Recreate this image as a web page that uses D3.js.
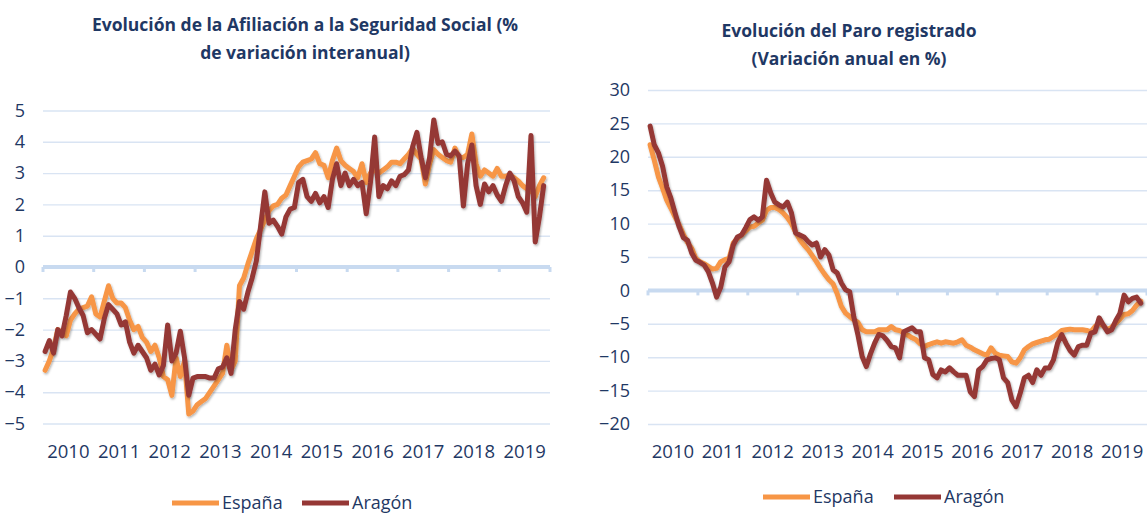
<!DOCTYPE html>
<html>
<head>
<meta charset="utf-8">
<script src="https://cdn.jsdelivr.net/npm/d3@7"></script>
<style>
  body { margin: 0; background: #fff; }
  svg text { font-family: "Open Sans", sans-serif; fill: #1f3864; }
</style>
</head>
<body>
<svg id="chart" width="1147" height="514"></svg>
<script>
// years on the category axis (monthly data, Jan 2010 onwards)
const years = ["2010", "2011", "2012", "2013", "2014", "2015", "2016", "2017", "2018", "2019"];
const seriesNames = ["España", "Aragón"];

// Afiliación a la Seguridad Social, % variación interanual
const afilTicks = [-5, -4, -3, -2, -1, 0, 1, 2, 3, 4, 5];
const espAfil = [
  -3.3, -3.0, -2.6, -2.0, -2.1, -2.2, -1.7, -1.5, -1.35, -1.3,
  -1.25, -0.95, -1.5, -1.6, -1.1, -0.6, -1.0, -1.15, -1.15, -1.3,
  -1.7, -2.0, -1.9, -2.25, -2.4, -2.7, -2.5, -2.9, -3.5, -3.6,
  -4.1, -2.9, -3.5, -3.0, -4.7, -4.6, -4.4, -4.3, -4.2, -4.0,
  -3.8, -3.6, -3.4, -2.5, -3.3, -3.0, -0.6, -0.35, 0.1, 0.5,
  0.9, 1.2, 1.5, 1.8, 1.95, 2.0, 2.2, 2.3, 2.6, 2.9,
  3.2, 3.35, 3.4, 3.45, 3.65, 3.3, 3.25, 2.85, 3.4, 3.8,
  3.4, 3.25, 3.15, 3.05, 2.85, 3.3, 2.7, 3.0, 3.1, 3.0,
  3.1, 3.2, 3.35, 3.35, 3.3, 3.45, 3.6, 3.8, 3.6, 3.45,
  2.65, 3.3, 3.75, 3.6, 3.5, 3.4, 3.35, 3.8, 3.5, 3.5,
  3.6, 4.25, 3.3, 2.9, 3.1, 3.0, 2.9, 3.15, 2.9, 2.9,
  2.95, 2.85, 2.75, 2.6, 2.5, 2.45, 2.25, 2.6, 2.85
];
const aragAfil = [
  -2.7, -2.35, -2.75, -2.0, -2.2, -1.55, -0.8, -1.0, -1.3, -1.55,
  -2.1, -2.0, -2.15, -2.3, -1.65, -1.2, -1.35, -1.5, -1.85, -1.75,
  -2.4, -2.75, -2.5, -2.7, -2.9, -3.3, -3.1, -3.45, -3.15, -1.85,
  -3.0, -2.75, -2.05, -2.9, -4.1, -3.55, -3.5, -3.5, -3.5, -3.55,
  -3.55, -3.25, -3.2, -2.9, -3.4, -2.0, -1.1, -1.35, -0.8, -0.35,
  0.2, 1.3, 2.4, 1.4, 1.5, 1.3, 1.05, 1.6, 1.85, 1.9,
  2.7, 2.8, 2.25, 2.1, 2.35, 2.05, 2.25, 1.9, 2.8, 3.3,
  2.6, 3.0, 2.6, 2.8, 2.6, 2.7, 1.7, 2.7, 4.15, 2.25,
  2.6, 2.5, 2.75, 2.6, 2.9, 2.95, 3.1, 3.85, 4.3, 3.5,
  2.85, 3.5, 4.7, 3.95, 4.0, 3.6, 3.55, 3.7, 3.55, 1.95,
  3.3, 3.9, 2.6, 2.0, 2.65, 2.4, 2.6, 2.3, 2.1, 2.6,
  3.0, 2.75, 2.25, 2.05, 1.75, 4.2, 0.8, 1.6, 2.6
];

// Paro registrado, variación anual en %
const paroTicks = [-20, -15, -10, -5, 0, 5, 10, 15, 20, 25, 30];
const espParo = [
  21.8, 19.5, 17.0, 15.3, 13.5, 12.3, 11.0, 9.8, 8.4, 7.2,
  6.3, 4.8, 4.3, 4.0, 3.6, 3.2, 3.3, 4.3, 4.6, 4.8,
  7.1, 7.8, 8.3, 8.9, 9.5, 9.6, 10.1, 10.5, 12.0, 12.4,
  12.4, 12.1, 11.6, 10.9, 10.0, 8.7, 7.6, 6.8, 6.1, 5.2,
  4.3, 3.3, 2.4, 1.6, 1.0, -0.5, -2.4, -3.4, -3.9, -4.4,
  -4.8, -5.9, -6.2, -6.2, -6.2, -5.9, -5.9, -5.9, -5.4, -5.9,
  -6.0, -6.4, -6.7, -7.1, -7.4, -8.0, -8.4, -8.1, -7.9, -7.7,
  -7.9, -7.7, -7.8, -7.9, -7.7, -7.4, -8.2, -8.5, -8.9, -9.2,
  -9.5, -9.7, -8.6, -9.4, -9.7, -9.8, -9.9, -10.7, -10.9, -10.1,
  -8.9, -8.4, -8.0, -7.8, -7.6, -7.4, -7.3, -6.9, -6.5, -6.0,
  -5.9, -5.8, -5.9, -5.9, -5.9, -6.0, -6.2, -5.4, -4.9, -5.3,
  -5.9, -5.5, -4.9, -4.3, -3.6, -3.5, -3.0, -2.2, -1.6
];
const aragParo = [
  24.6, 21.8, 20.6, 18.6, 15.5, 13.8, 11.6, 9.5, 7.9, 7.5,
  5.6, 4.5, 4.2, 3.8, 2.8, 1.1, -1.0, 0.5, 3.5, 4.3,
  6.8, 8.0, 8.3, 9.4, 10.6, 11.0, 10.5, 11.0, 16.5, 14.6,
  13.2, 12.8, 12.5, 13.2, 11.6, 8.6, 8.3, 8.0, 7.3, 6.8,
  7.1, 5.0, 6.1, 5.3, 3.1, 2.6, 1.1, 0.1, -0.2, -4.0,
  -6.7, -9.9, -11.4, -9.5, -7.9, -6.6, -6.8, -7.5, -8.4, -8.6,
  -10.1, -6.2, -5.9, -5.6, -6.2, -6.2, -10.1, -10.4, -12.6, -13.1,
  -11.9, -12.2, -11.6, -12.2, -12.7, -12.7, -12.7, -15.2, -15.9, -11.9,
  -11.4, -10.4, -10.2, -10.1, -10.4, -13.1, -13.8, -16.4, -17.4, -15.4,
  -13.1, -12.7, -13.8, -11.9, -12.7, -11.6, -11.6, -10.4, -7.9, -6.6,
  -7.9, -9.0, -9.7, -8.4, -8.2, -8.2, -6.4, -6.2, -4.1, -5.2,
  -6.2, -5.9, -4.5, -3.4, -0.7, -1.7, -1.2, -1.0, -1.9
];

const colors = ["#f79646", "#953735"];
const gridColor = "#d9e4f3";
const axisColor = "#c8daf0";

const svg = d3.select("#chart");
svg.append("rect").attr("width", 1147).attr("height", 514).attr("fill", "#fff");

// soft shadow like the Excel original
const defs = svg.append("defs");
const f = defs.append("filter").attr("id", "shadow")
  .attr("x", "-5%").attr("y", "-5%").attr("width", "110%").attr("height", "115%");
f.append("feDropShadow").attr("dx", 1).attr("dy", 1.5)
  .attr("stdDeviation", 1.2).attr("flood-color", "#000").attr("flood-opacity", 0.3);

function drawPanel(opt) {
  const g = svg.append("g");
  const monthsTotal = years.length * 12;

  const xBand = d3.scaleBand().domain(years).range([opt.x0, opt.x1]);
  const x = d3.scaleLinear().domain([0, monthsTotal]).range([opt.x0, opt.x1]);
  const y = d3.scaleLinear().domain(opt.domain).range([opt.yBottom, opt.yTop]);

  // grid + y labels
  const yAxis = g.append("g")
    .attr("transform", `translate(${opt.x0},0)`)
    .call(d3.axisLeft(y).tickValues(opt.ticks).tickSize(-(opt.x1 - opt.x0)).tickPadding(18));
  yAxis.select(".domain").remove();
  yAxis.selectAll("line").attr("stroke", gridColor).attr("stroke-width", 1.4)
    .filter(d => d === 0).remove();
  yAxis.selectAll("text").style("font-size", "18px").attr("fill", "#1f3864");

  // zero line with year tick marks
  const y0 = y(0);
  g.append("line")
    .attr("x1", opt.x0).attr("x2", opt.x1)
    .attr("y1", y0).attr("y2", y0)
    .attr("stroke", axisColor).attr("stroke-width", 4);
  const bounds = years.map(d => xBand(d)).concat([opt.x1]);
  g.selectAll(".ytick").data(bounds).enter().append("line")
    .attr("x1", d => d).attr("x2", d => d)
    .attr("y1", y0).attr("y2", y0 + 5)
    .attr("stroke", axisColor).attr("stroke-width", 3);

  // year labels
  const xAxis = g.append("g")
    .attr("transform", `translate(0,${opt.labelY})`)
    .call(d3.axisBottom(xBand).tickSize(0).tickPadding(4));
  xAxis.select(".domain").remove();
  xAxis.selectAll("text").style("font-size", "18.5px").attr("fill", "#1f3864");

  // series
  const line = d3.line()
    .x((d, i) => x(i + 0.5))
    .y(d => y(d));
  [opt.esp, opt.arag].forEach((vals, k) => {
    g.append("path")
      .datum(vals)
      .attr("d", line)
      .attr("fill", "none")
      .attr("stroke", colors[k])
      .attr("stroke-width", 5)
      .attr("stroke-linejoin", "round")
      .attr("stroke-linecap", "round")
      .attr("filter", "url(#shadow)");
  });

  // title
  opt.title.forEach((t, i) => {
    g.append("text")
      .attr("x", opt.titleX)
      .attr("y", opt.titleY + i * 28)
      .attr("text-anchor", "middle")
      .style("font-size", "17.5px")
      .style("font-weight", "bold")
      .text(t);
  });

  // legend
  const leg = g.append("g").attr("transform", `translate(0,${opt.legendY})`);
  seriesNames.forEach((name, k) => {
    const lx = opt.legendX[k];
    leg.append("line")
      .attr("x1", lx).attr("x2", lx + 47)
      .attr("y1", 0).attr("y2", 0)
      .attr("stroke", colors[k]).attr("stroke-width", 5);
    leg.append("text")
      .attr("x", lx + 50).attr("y", 0).attr("dy", "0.35em")
      .style("font-size", "18px")
      .text(name);
  });
}

drawPanel({
  x0: 43, x1: 550, yTop: 110.5, yBottom: 423.5,
  domain: [-5, 5], ticks: afilTicks, labelY: 441,
  esp: espAfil, arag: aragAfil,
  title: ["Evolución de la Afiliación a la Seguridad Social (%", "de variación interanual)"],
  titleX: 305, titleY: 31,
  legendY: 503, legendX: [172, 302]
});

drawPanel({
  x0: 648, x1: 1147, yTop: 90, yBottom: 424,
  domain: [-20, 30], ticks: paroTicks, labelY: 441,
  esp: espParo, arag: aragParo,
  title: ["Evolución del Paro registrado", "(Variación anual en %)"],
  titleX: 849, titleY: 37,
  legendY: 497, legendX: [763, 894]
});
</script>
</body>
</html>
